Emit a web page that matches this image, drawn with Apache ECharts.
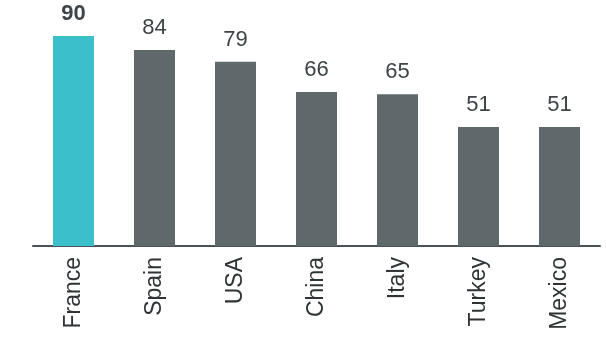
<!DOCTYPE html>
<html>
<head>
<meta charset="utf-8">
<style>html,body{margin:0;padding:0;background:#fff}#chart{width:606px;height:351px}</style>
<script src="https://cdn.jsdelivr.net/npm/echarts@6/dist/echarts.min.js"></script>
</head>
<body>
<div id="chart"></div>
<script>
// International tourist arrivals (millions), by country
const countries = ['France', 'Spain', 'USA', 'China', 'Italy', 'Turkey', 'Mexico'];
const arrivals = [90, 84, 79, 66, 65, 51, 51];
const highlight = 'France';

const chart = echarts.init(document.getElementById('chart'));
chart.setOption({
  animation: false,
  grid: { left: 33, right: 6, top: 36, bottom: 105, containLabel: false },
  xAxis: {
    type: 'category',
    data: countries,
    axisLine: { lineStyle: { color: '#4b5257', width: 2 } },
    axisTick: { show: false },
    axisLabel: {
      rotate: 90, margin: 11, fontSize: 23, color: '#2f3336',
      fontFamily: 'Liberation Sans, Arial, sans-serif'
    }
  },
  yAxis: { type: 'value', min: 0, max: 90, show: false, splitLine: { show: false } },
  series: [{
    type: 'bar',
    barWidth: 41,
    data: arrivals.map((v, i) => {
      const hi = countries[i] === highlight;
      return {
        value: v,
        itemStyle: { color: hi ? '#3bbfca' : '#5f686a' },
        label: { fontWeight: hi ? 'bold' : 'normal' }
      };
    }),
    label: {
      show: true, position: 'top', distance: 11, fontSize: 22, color: '#3e4347',
      fontFamily: 'Liberation Sans, Arial, sans-serif'
    }
  }]
});
</script>
</body>
</html>
